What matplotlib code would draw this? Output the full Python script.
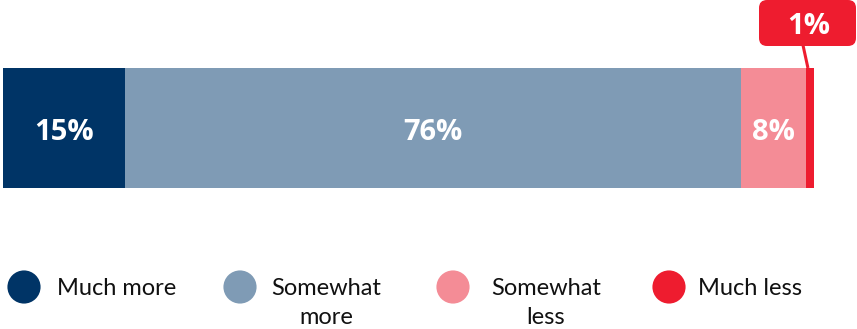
import matplotlib
matplotlib.use("Agg")
import matplotlib.pyplot as plt
from matplotlib.patches import FancyBboxPatch

# Response shares (percent)
categories = ["Much more", "Somewhat\nmore", "Somewhat\nless", "Much less"]
values = [15, 76, 8, 1]
bar_labels = ["15%", "76%", "8%", "1%"]
colors = ["#003466", "#7f9bb5", "#f48c96", "#ee1c2f"]

W, H = 857, 329
fig = plt.figure(figsize=(W / 100, H / 100), dpi=100)
FONT = "Open Sans"
LEGEND_FONT = "Lato"

# Stacked horizontal bar
bar_left, bar_right, bar_top, bar_bottom = 3, 814, 68, 188
ax = fig.add_axes([bar_left / W, 1 - bar_bottom / H,
                   (bar_right - bar_left) / W, (bar_bottom - bar_top) / H])
ax.set_xlim(0, sum(values))
ax.set_ylim(1, 0)
ax.axis("off")

# baseline of the value labels, as a fraction of bar height from the top
label_base = (140 - bar_top) / (bar_bottom - bar_top)

left = 0
for val, lab, col in zip(values, bar_labels, colors):
    ax.barh(0.5, val, left=left, height=1, color=col, edgecolor="none")
    if val >= 5:
        ax.text(left + val / 2, label_base, lab, ha="center", va="baseline",
                color="white", fontsize=21, fontweight="bold", family=FONT)
    left += val

# Overlay axes in pixel units for callout and legend
ov = fig.add_axes([0, 0, 1, 1])
ov.set_xlim(0, W)
ov.set_ylim(H, 0)
ov.axis("off")

# Callout for the smallest segment
last_mid = sum(values[:-1]) + values[-1] / 2
x_mid_px = bar_left + last_mid / sum(values) * (bar_right - bar_left)
box = FancyBboxPatch((759, 0), 97, 46, boxstyle="round,pad=0,rounding_size=8",
                     fc=colors[-1], ec="none")
ov.add_patch(box)
ov.plot([x_mid_px - 7, x_mid_px - 2], [45, bar_top], color=colors[-1], lw=2.2,
        solid_capstyle="butt")
ov.text(809, 34, bar_labels[-1], ha="center", va="baseline", color="white",
        fontsize=21, fontweight="bold", family=FONT)

# Legend
circle_x = [24, 240, 453, 669]
text_x = [57, 326, 546, 698]
aligns = ["left", "center", "center", "left"]
legend_y = 287
for cx, tx, al, col, cat in zip(circle_x, text_x, aligns, colors, categories):
    ov.scatter([cx], [legend_y], s=570, color=col, edgecolors="none")
    for i, line in enumerate(cat.split("\n")):
        ov.text(tx, 295 + i * 29, line, ha=al, va="baseline", fontsize=17,
                family=LEGEND_FONT, color="#111111")

fig.savefig("out.png", dpi=100)
